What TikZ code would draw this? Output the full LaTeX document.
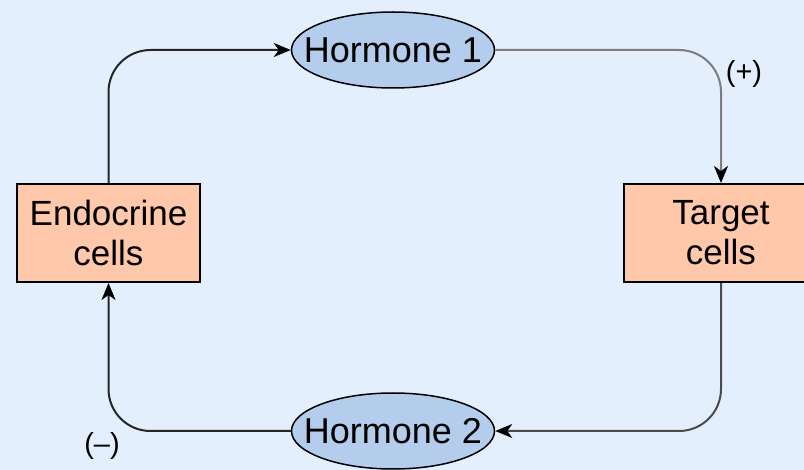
\documentclass[tikz,border=0pt]{standalone}
\usepackage{fontspec}
\setmainfont{Liberation Sans}
\usetikzlibrary{shapes.geometric,arrows.meta}
\definecolor{bgblue}{RGB}{227,239,253}
\definecolor{hormfill}{RGB}{180,205,237}
\definecolor{cellfill}{RGB}{255,200,170}
\definecolor{lightline}{RGB}{125,125,125}
\newcommand{\fixedtext}[1]{\makebox[0pt][c]{#1}}
\tikzset{
  hormone/.style={ellipse,draw=black,line width=1.5pt,fill=hormfill,minimum width=203pt,minimum height=76pt,inner sep=0pt,font=\fontsize{36}{40}\selectfont},
  cellbox/.style={rectangle,draw=black,line width=2pt,fill=cellfill,minimum height=98pt,inner sep=0pt,align=center,font=\fontsize{35}{40}\selectfont},
  conn/.style={line width=2pt,rounded corners=42pt,-{Stealth[length=17pt,width=14pt,inset=5pt,color=black]}},
  sign/.style={font=\fontsize{29}{32}\selectfont,inner sep=0pt}
}
\begin{document}
\begin{tikzpicture}[x=1pt,y=-1pt]
\fill[bgblue] (0,0) rectangle (804,470);
\useasboundingbox (0,0) rectangle (804,470);
\node[hormone] (h1) at (393,50) {\fixedtext{Hormone 1}};
\node[hormone] (h2) at (393,431) {\fixedtext{Hormone 2}};
\node[cellbox,minimum width=183pt] (e) at (108.5,233) {Endocrine\\cells};
\node[cellbox,minimum width=194pt] (t) at (721,233) {Target\\cells};
\draw[conn,black!85] (e.north) |- (h1.west);
\draw[conn,lightline] (h1.east) -| (t.north);
\draw[conn,lightline!60!black] (t.south) |- (h2.east);
\draw[conn,black!85] (h2.west) -| (e.south);
\node[sign] (plus) at (744,74) {(+)};
\node[sign] (minus) at (102,446) {(\textendash)};
\end{tikzpicture}
\end{document}
